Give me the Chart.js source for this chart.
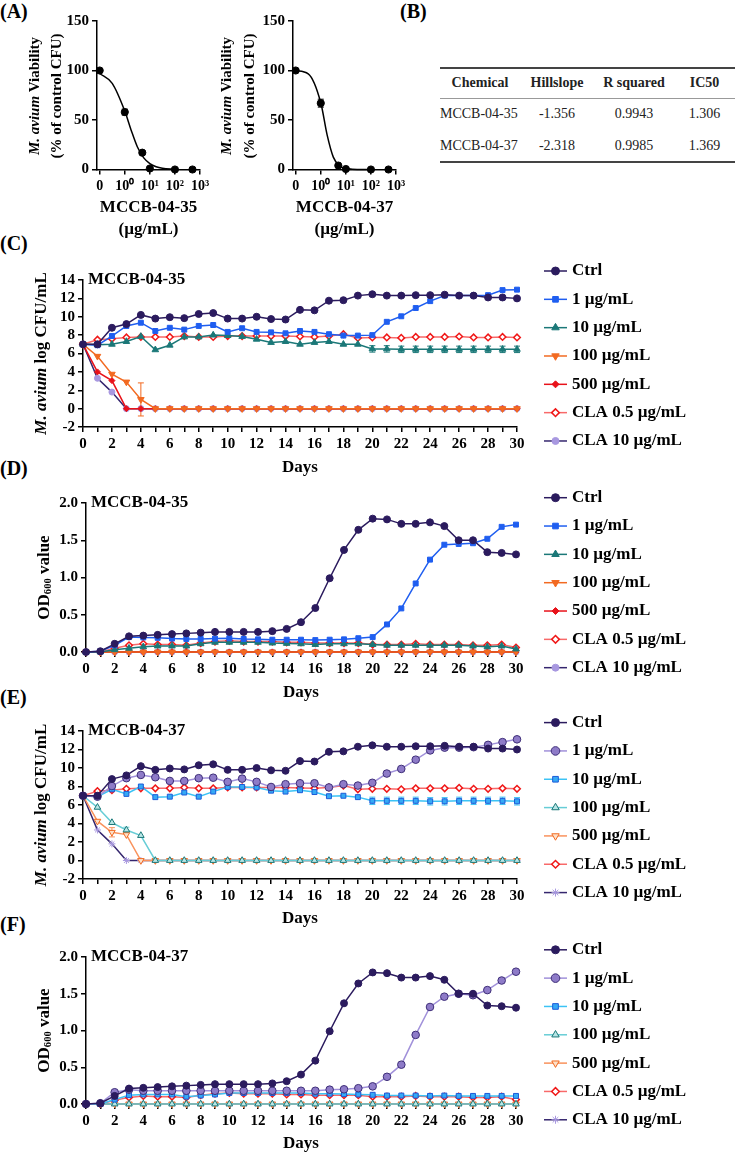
<!DOCTYPE html>
<html>
<head>
<meta charset="utf-8">
<script src="https://cdn.jsdelivr.net/npm/chart.js@4.4.1/dist/chart.umd.min.js"></script>
<style>
  html, body { margin: 0; padding: 0; background: #fff; overflow: hidden; }
  #page { position: relative; width: 735px; height: 1154px; font-family: "Liberation Serif", "Times New Roman", serif; color: #000; }
  canvas { position: absolute; }
  .lab { position: absolute; font-weight: bold; font-size: 20px; line-height: 22px; }
  #tbl { position: absolute; left: 440px; top: 67px; width: 295px; border-collapse: collapse; font-size: 14px; color: #222; table-layout: fixed; }
  #tbl th, #tbl td { padding: 0; text-align: center; white-space: nowrap; }
  #tbl thead tr { height: 30px; border-top: 2.5px solid #444; border-bottom: 1px solid #999; }
  #tbl tbody tr { height: 32px; }
  #tbl tbody tr:last-child { border-bottom: 2.5px solid #444; }
  #tbl td.name { text-align: left; }
</style>
</head>
<body>
<div id="page">
  <div class="lab" style="left:0;top:0">(A)</div>
  <div class="lab" style="left:400px;top:0">(B)</div>
  <div class="lab" style="left:0;top:232px">(C)</div>
  <div class="lab" style="left:0;top:457px">(D)</div>
  <div class="lab" style="left:0;top:686px">(E)</div>
  <div class="lab" style="left:0;top:913px">(F)</div>

  <canvas id="cA1"></canvas>
  <canvas id="cA2"></canvas>

  <table id="tbl">
    <colgroup><col style="width:80px"><col style="width:74px"><col style="width:80px"><col style="width:61px"></colgroup>
    <thead><tr><th>Chemical</th><th>Hillslope</th><th>R squared</th><th>IC50</th></tr></thead>
    <tbody id="tblBody"></tbody>
  </table>

  <canvas id="cC"></canvas>
  <canvas id="cD"></canvas>
  <canvas id="cE"></canvas>
  <canvas id="cF"></canvas>
</div>

<script>
const FONT = '"Liberation Serif", "Times New Roman", serif';
Chart.defaults.font.family = FONT;

// ---- (A) dose response ----
const doseConc = [0, 1, 5, 10, 100, 500];
const viab35 = [100, 58, 17, 1, 0, 0];
const viab35Err = [0, 3, 1.5, 0, 0, 0];
const viab37 = [100, 67, 4, 0.5, 0, 0];
const viab37Err = [0, 4, 1, 0, 0, 0];
// fitted curves
const fitConc = [0.1, 0.316, 1, 1.78, 3.16, 5.62, 10, 17.8, 31.6, 100];
const fit35 = [97, 87, 59, 40, 23, 12, 6, 2.8, 1.3, 0.3];
const fit37 = [99.8, 96.7, 67.4, 35.2, 12.5, 3.6, 1.0, 0.3, 0.1, 0];
const aTickVals = [0.1, 1, 10, 100, 1000];
const aTickLabels = ['0', '10⁰', '10¹', '10²', '10³'];

// ---- (B) table ----
const tblChemical = ['MCCB-04-35', 'MCCB-04-37'];
const tblHill = ['-1.356', '-2.318'];
const tblR2 = ['0.9943', '0.9985'];
const tblIC50 = ['1.306', '1.369'];

// ---- (C)-(F) time courses ----
const groupLabels = ['Ctrl', '1 µg/mL', '10 µg/mL', '100 µg/mL', '500 µg/mL', 'CLA 0.5 µg/mL', 'CLA 10 µg/mL'];
const days = [0,1,2,3,4,5,6,7,8,9,10,11,12,13,14,15,16,17,18,19,20,21,22,23,24,25,26,27,28,29,30];

const ctrlCfu  = [7.0,7.0,8.8,9.2,10.2,9.8,9.95,9.85,10.3,10.4,9.8,9.8,10.0,9.75,9.7,10.75,10.7,11.75,11.8,12.3,12.45,12.3,12.3,12.35,12.35,12.4,12.3,12.3,12.1,12.1,12.0];
const cla05Cfu = [7.0,7.5,7.6,7.75,7.8,7.8,7.8,7.9,7.8,7.8,7.9,7.9,7.9,7.9,7.9,7.85,7.8,7.9,8.1,7.7,7.75,7.75,7.7,7.8,7.8,7.8,7.85,7.75,7.75,7.8,7.75];
const cla10Cfu = [7.0,3.3,1.8,0,0,0,0,0,0,0,0,0,0,0,0,0,0,0,0,0,0,0,0,0,0,0,0,0,0,0,0];

const mc35Cfu1   = [7.0,6.9,7.9,9.0,9.35,8.45,8.8,8.6,9.0,9.1,8.35,8.75,8.35,8.3,8.2,8.45,8.35,8.1,7.95,7.95,8.0,9.45,10.05,10.95,11.7,12.3,12.3,12.3,12.35,12.9,12.95];
const mc35Cfu10  = [7.0,6.95,7.0,7.3,7.85,6.4,6.9,7.8,7.8,8.0,7.95,7.85,7.55,7.2,7.3,7.0,7.2,7.3,7.0,7.0,6.5,6.5,6.45,6.45,6.45,6.45,6.45,6.45,6.45,6.45,6.45];
const mc35Cfu100 = [7.0,5.7,3.75,2.9,1.0,0,0,0,0,0,0,0,0,0,0,0,0,0,0,0,0,0,0,0,0,0,0,0,0,0,0];
const mc35Cfu500 = [7.0,4.0,3.05,0,0,0,0,0,0,0,0,0,0,0,0,0,0,0,0,0,0,0,0,0,0,0,0,0,0,0,0];
const mc35Err10  = [0,0,0,0,0,0,0,0,0,0,0,0,0,0,0,0,0,0,0,0,0.35,0.35,0.35,0.35,0.35,0.35,0.35,0.35,0.35,0.35,0.35];
const mc35Err100 = [0,0,0,0,1.8,0,0,0,0,0,0,0,0,0,0,0,0,0,0,0,0,0,0,0,0,0,0,0,0,0,0];

const ctrlOd  = [0,0.01,0.11,0.21,0.22,0.23,0.24,0.25,0.26,0.27,0.27,0.27,0.27,0.28,0.31,0.40,0.59,0.99,1.37,1.64,1.79,1.78,1.72,1.72,1.74,1.69,1.50,1.50,1.34,1.33,1.31];
const cla05Od = [0,0,0.05,0.09,0.11,0.1,0.1,0.09,0.12,0.14,0.15,0.14,0.14,0.14,0.13,0.13,0.12,0.12,0.12,0.12,0.1,0.1,0.1,0.11,0.1,0.1,0.1,0.09,0.09,0.1,0.06];
const cla10Od = [0,0,0,0,0,0,0,0,0,0,0,0,0,0,0,0,0,0,0,0,0,0,0,0,0,0,0,0,0,0,0];

const mc35Od1   = [0,0.01,0.09,0.2,0.195,0.19,0.18,0.175,0.175,0.18,0.185,0.175,0.17,0.165,0.165,0.165,0.16,0.165,0.17,0.185,0.2,0.37,0.585,0.92,1.24,1.44,1.45,1.46,1.52,1.68,1.71];
const mc35Od10  = [0,0,0.03,0.05,0.07,0.08,0.08,0.08,0.11,0.13,0.13,0.13,0.13,0.12,0.115,0.11,0.1,0.11,0.11,0.11,0.1,0.09,0.09,0.09,0.09,0.09,0.09,0.08,0.07,0.08,0.04];
const mc35Od100 = [0,0,0,0,0,0,0,0,0,0,0,0,0,0,0,0,0,0,0,0,0,0,0,0,0,0,0,0,0,0,0];
const mc35Od500 = [0,0,0,0,0,0,0,0,0,0,0,0,0,0,0,0,0,0,0,0,0,0,0,0,0,0,0,0,0,0,0];

const mc37Cfu1   = [7.0,6.9,8.05,8.9,9.25,9.0,8.6,8.6,8.9,8.95,8.5,8.85,8.5,7.95,8.25,8.35,8.35,7.9,8.25,8.1,8.4,9.4,9.9,10.9,11.9,12.2,12.2,12.25,12.5,12.8,13.1];
const mc37Cfu10  = [7.0,6.9,7.7,7.2,8.0,6.85,6.9,7.35,6.9,7.45,7.95,7.95,7.9,7.55,7.45,7.6,7.4,6.95,7.0,6.85,6.45,6.45,6.45,6.45,6.4,6.4,6.45,6.45,6.45,6.45,6.4];
const mc37Cfu100 = [7.0,5.75,4.1,3.3,2.7,0,0,0,0,0,0,0,0,0,0,0,0,0,0,0,0,0,0,0,0,0,0,0,0,0,0];
const mc37Cfu500 = [7.0,4.25,3.05,2.8,0,0,0,0,0,0,0,0,0,0,0,0,0,0,0,0,0,0,0,0,0,0,0,0,0,0,0];
const mc37Err10  = [0,0,0,0,0,0,0,0,0,0,0,0,0,0,0,0,0,0,0,0,0.4,0.4,0.4,0.4,0.4,0.4,0.4,0.4,0.4,0.4,0.4];
const mc37Err100 = [0,0,0,0.3,0,0,0,0,0,0,0,0,0,0,0,0,0,0,0,0,0,0,0,0,0,0,0,0,0,0,0];
const mc37Err500 = [0,0,0.5,0,0,0,0,0,0,0,0,0,0,0,0,0,0,0,0,0,0,0,0,0,0,0,0,0,0,0,0];

const mc37Od1   = [0,0.01,0.16,0.195,0.18,0.18,0.18,0.18,0.18,0.18,0.18,0.18,0.18,0.18,0.18,0.18,0.18,0.195,0.2,0.215,0.24,0.37,0.535,0.94,1.32,1.46,1.5,1.48,1.55,1.68,1.8];
const mc37Od10  = [0,0,0.06,0.12,0.13,0.13,0.13,0.1,0.115,0.13,0.15,0.15,0.15,0.15,0.15,0.15,0.14,0.14,0.135,0.13,0.125,0.115,0.115,0.115,0.11,0.115,0.11,0.11,0.11,0.11,0.11];
const mc37Od100 = [0,0,0,0,0,0,0,0,0,0,0,0,0,0,0,0,0,0,0,0,0,0,0,0,0,0,0,0,0,0,0];
const mc37Od500 = [0,0,0,0,0,0,0,0,0,0,0,0,0,0,0,0,0,0,0,0,0,0,0,0,0,0,0,0,0,0,0];

// marker / line styles, one per group
const style35 = [
  { c: '#2b1b5e', pf: '#2b1b5e', pb: '#2b1b5e', ps: 'circle', r: 3.5 },
  { c: '#1f5ef0', pf: '#1f5ef0', pb: '#1f5ef0', ps: 'rect', r: 3.5 },
  { c: '#1b7878', pf: '#1b7878', pb: '#1b7878', ps: 'triangle', r: 3.8 },
  { c: '#f26a21', pf: '#f26a21', pb: '#f26a21', ps: 'triangle', r: 3.8, rot: 180 },
  { c: '#e8121a', pf: '#e8121a', pb: '#e8121a', ps: 'rectRot', r: 3 },
  { c: '#f86a6a', pf: '#ffffff', pb: '#f01818', ps: 'rectRot', r: 3.3, bw: 1.5 },
  { c: '#35266e', pf: '#a898e0', pb: '#a898e0', ps: 'circle', r: 3 }
];
const style37 = [
  style35[0],
  { c: '#a191da', pf: '#8e7bc8', pb: '#3e2e78', ps: 'circle', r: 3.8 },
  { c: '#3cc3f5', pf: '#35a9f5', pb: '#1d5bd8', ps: 'rect', r: 3.5 },
  { c: '#67cdd6', pf: '#b9e6e6', pb: '#1b7878', ps: 'triangle', r: 3.8 },
  { c: '#f9925c', pf: '#fde0c8', pb: '#f26a21', ps: 'triangle', r: 3.8, rot: 180 },
  style35[5],
  { c: '#35266e', pf: '#a898e0', pb: '#a898e0', ps: 'star', r: 3.5 }
];

// table rows
const body = document.getElementById('tblBody');
tblChemical.forEach((n, i) => {
  const tr = document.createElement('tr');
  tr.innerHTML = `<td class="name">${n}</td><td>${tblHill[i]}</td><td>${tblR2[i]}</td><td>${tblIC50[i]}</td>`;
  body.appendChild(tr);
});

// text with italic / subscript parts, centred on (cx, cy)
function drawRich(ctx, parts, cx, cy, size) {
  const m = parts.map(p => {
    const s = p.sub ? size * 0.62 : size;
    const f = `${p.i ? 'italic ' : ''}bold ${s}px ${FONT}`;
    ctx.font = f;
    return { f, w: ctx.measureText(p.t).width, dy: p.sub ? size * 0.22 : 0 };
  });
  let x = cx - m.reduce((a, b) => a + b.w, 0) / 2;
  ctx.textAlign = 'left';
  ctx.textBaseline = 'middle';
  parts.forEach((p, k) => {
    ctx.font = m[k].f;
    ctx.fillText(p.t, x, cy + m[k].dy);
    x += m[k].w;
  });
}

function decorPlugin(cfg) {
  return {
    id: 'decor',
    afterDraw(chart) {
      const ctx = chart.ctx;
      ctx.save();
      ctx.fillStyle = '#000';
      (cfg.yTitle || []).forEach(ln => {
        ctx.save();
        ctx.translate(ln.x, ln.y);
        ctx.rotate(-Math.PI / 2);
        drawRich(ctx, ln.parts, 0, 0, ln.size);
        ctx.restore();
      });
      if (cfg.corner) {
        ctx.font = `bold 17px ${FONT}`;
        ctx.textAlign = 'left';
        ctx.textBaseline = 'middle';
        ctx.fillText(cfg.corner.text, cfg.corner.x, cfg.corner.y);
      }
      if (cfg.legend) {
        const { x, y, dy } = cfg.legend;
        chart.data.datasets.forEach((ds, k) => {
          const yy = y + k * dy;
          ctx.strokeStyle = ds.borderColor;
          ctx.lineWidth = ds.borderWidth;
          ctx.beginPath(); ctx.moveTo(x, yy); ctx.lineTo(x + 23, yy); ctx.stroke();
          ctx.fillStyle = ds.pointBackgroundColor;
          ctx.strokeStyle = ds.pointBorderColor;
          ctx.lineWidth = ds.pointBorderWidth;
          Chart.helpers.drawPoint(ctx, {
            pointStyle: ds.pointStyle, radius: ds.pointRadius + 0.5,
            rotation: ds.pointRotation, borderWidth: ds.pointBorderWidth
          }, x + 11.5, yy);
          ctx.fillStyle = '#000';
          ctx.font = `bold 17px ${FONT}`;
          ctx.textAlign = 'left';
          ctx.textBaseline = 'middle';
          ctx.fillText(ds.label, x + 28, yy);
        });
      }
      ctx.restore();
    }
  };
}

const errBars = {
  id: 'errBars',
  beforeDatasetsDraw(chart) {
    const ctx = chart.ctx, ys = chart.scales.y;
    chart.data.datasets.forEach((ds, i) => {
      if (!ds.errors) return;
      const meta = chart.getDatasetMeta(i);
      ctx.save();
      ctx.strokeStyle = ds.errColor || ds.borderColor;
      ctx.lineWidth = 1;
      ds.errors.forEach((e, j) => {
        if (!e) return;
        const p = meta.data[j], v = ds.data[j].y;
        const y1 = ys.getPixelForValue(v + e), y2 = ys.getPixelForValue(v - e);
        ctx.beginPath();
        ctx.moveTo(p.x, y1); ctx.lineTo(p.x, y2);
        ctx.moveTo(p.x - 3, y1); ctx.lineTo(p.x + 3, y1);
        ctx.moveTo(p.x - 3, y2); ctx.lineTo(p.x + 3, y2);
        ctx.stroke();
      });
      ctx.restore();
    });
  }
};

function axisBase() {
  return {
    border: { color: '#000', width: 1.5 },
    grid: { drawOnChartArea: false, color: '#000', lineWidth: 1.5, tickLength: 5 },
    ticks: { color: '#000', font: { size: 15, weight: 'bold' }, padding: 3, autoSkip: false }
  };
}

// ---- (A) charts ----
function doseChart(id, left, viab, err, fit, name, titleX) {
  const cv = document.getElementById(id);
  const W = 215, H = 243, l = 97, r = 200, t = 21, b = 169.5;
  cv.width = W; cv.height = H;
  cv.style.left = left + 'px'; cv.style.top = '0px';
  const xs = axisBase(), ys = axisBase();
  new Chart(cv, {
    type: 'line',
    data: {
      datasets: [
        { data: fitConc.map((c, i) => ({ x: c, y: fit[i] })), borderColor: '#000', borderWidth: 1.5,
          pointRadius: 0, cubicInterpolationMode: 'monotone', clip: false },
        { data: doseConc.map((c, i) => ({ x: c === 0 ? 0.1 : c, y: viab[i] })), errors: err,
          showLine: false, borderColor: '#000', pointRadius: 3.6, pointBackgroundColor: '#000',
          pointBorderColor: '#000', clip: false }
      ]
    },
    options: {
      responsive: false, animation: false, events: [],
      layout: { padding: { left: 0, right: W - r, top: t, bottom: 0 } },
      plugins: { legend: { display: false }, tooltip: { enabled: false } },
      scales: {
        x: Object.assign(xs, {
          type: 'logarithmic', min: 0.078, max: 1000,
          afterBuildTicks: s => { s.ticks = aTickVals.map(v => ({ value: v })); },
          afterFit: s => { s.height = H - b; },
          ticks: Object.assign(xs.ticks, { maxRotation: 0, font: { size: 14, weight: 'bold' },
            callback: (v, i) => aTickLabels[i] }),
          title: { display: true, text: [name, '(µg/mL)'], color: '#000',
            font: { size: 17, weight: 'bold', lineHeight: 1.3 }, padding: { top: 0, bottom: 2 } }
        }),
        y: Object.assign(ys, {
          min: 0, max: 150,
          afterFit: s => { s.width = l; },
          ticks: Object.assign(ys.ticks, { stepSize: 50 })
        })
      }
    },
    plugins: [errBars, decorPlugin({
      yTitle: [
        { x: titleX[0], y: 96, size: 15, parts: [{ t: 'M. avium', i: true }, { t: ' Viability' }] },
        { x: titleX[1], y: 96, size: 15, parts: [{ t: '(% of control CFU)' }] }
      ]
    })]
  });
}
doseChart('cA1', 0, viab35, viab35Err, fit35, 'MCCB-04-35', [35, 57]);
doseChart('cA2', 196, viab37, viab37Err, fit37, 'MCCB-04-37', [31, 54]);

// ---- time-course charts ----
function timeChart(id, g, series, styles, kind, name) {
  const cv = document.getElementById(id);
  cv.width = 735; cv.height = g.h;
  cv.style.left = '0px'; cv.style.top = g.top + 'px';
  const datasets = series.map((s, k) => {
    const st = styles[k];
    return {
      label: groupLabels[k],
      data: days.map((d, i) => ({ x: d, y: s.v[i] })),
      errors: s.e,
      borderColor: st.c, borderWidth: 1.5,
      pointBackgroundColor: st.pf, pointBorderColor: st.pb, pointBorderWidth: st.bw || 1,
      pointStyle: st.ps, pointRadius: st.r, pointRotation: st.rot || 0,
      clip: false, tension: 0
    };
  });
  const xs = axisBase(), ys = axisBase();
  const cfu = kind === 'cfu';
  new Chart(cv, {
    type: 'line',
    data: { datasets },
    options: {
      responsive: false, animation: false, events: [],
      layout: { padding: { left: 0, right: 735 - g.r, top: g.t - g.top, bottom: 0 } },
      plugins: { legend: { display: false }, tooltip: { enabled: false } },
      scales: {
        x: Object.assign(xs, {
          type: 'linear', min: 0, max: 30,
          afterFit: s => { s.height = g.top + g.h - g.b; },
          ticks: Object.assign(xs.ticks, { stepSize: 1, maxRotation: 0,
            callback: v => (v % 2 === 0 ? String(v) : '') }),
          title: { display: true, text: 'Days', color: '#000', font: { size: 17, weight: 'bold' },
            padding: { top: 0, bottom: g.padB } }
        }),
        y: Object.assign(ys, cfu ? { min: -2, max: 14 } : { min: 0, max: 2 }, {
          afterFit: s => { s.width = g.l; },
          ticks: Object.assign(ys.ticks, cfu ? { stepSize: 2 } : { stepSize: 0.5, callback: v => v.toFixed(1) })
        })
      }
    },
    plugins: [errBars, decorPlugin({
      yTitle: [{
        x: cfu ? 42 : 45, y: (g.t + g.b) / 2 - g.top, size: 17,
        parts: cfu ? [{ t: 'M. avium', i: true }, { t: ' log CFU/mL' }]
                   : [{ t: 'OD' }, { t: '600', sub: true }, { t: ' value' }]
      }],
      corner: { text: name, x: g.l + 5, y: g.t - g.top },
      legend: { x: 544, y: g.legY - g.top, dy: 28.33 }
    })]
  });
}

timeChart('cC', { top: 255, h: 225, l: 83, r: 517, t: 280, b: 427, padB: 2, legY: 271 },
  [{ v: ctrlCfu }, { v: mc35Cfu1 }, { v: mc35Cfu10, e: mc35Err10 }, { v: mc35Cfu100, e: mc35Err100 },
   { v: mc35Cfu500 }, { v: cla05Cfu }, { v: cla10Cfu }], style35, 'cfu', 'MCCB-04-35');

timeChart('cD', { top: 480, h: 225, l: 86, r: 516, t: 503, b: 652, padB: 2, legY: 497.7 },
  [{ v: ctrlOd }, { v: mc35Od1 }, { v: mc35Od10 }, { v: mc35Od100 },
   { v: mc35Od500 }, { v: cla05Od }, { v: cla10Od }], style35, 'od', 'MCCB-04-35');

timeChart('cE', { top: 705, h: 226, l: 83, r: 517, t: 731, b: 879, padB: 2, legY: 722.6 },
  [{ v: ctrlCfu }, { v: mc37Cfu1 }, { v: mc37Cfu10, e: mc37Err10 }, { v: mc37Cfu100, e: mc37Err100 },
   { v: mc37Cfu500, e: mc37Err500 }, { v: cla05Cfu }, { v: cla10Cfu }], style37, 'cfu', 'MCCB-04-37');

timeChart('cF', { top: 931, h: 223, l: 86, r: 516, t: 957, b: 1104, padB: 0, legY: 949.8 },
  [{ v: ctrlOd }, { v: mc37Od1 }, { v: mc37Od10 }, { v: mc37Od100 },
   { v: mc37Od500 }, { v: cla05Od }, { v: cla10Od }], style37, 'od', 'MCCB-04-37');
</script>
</body>
</html>
